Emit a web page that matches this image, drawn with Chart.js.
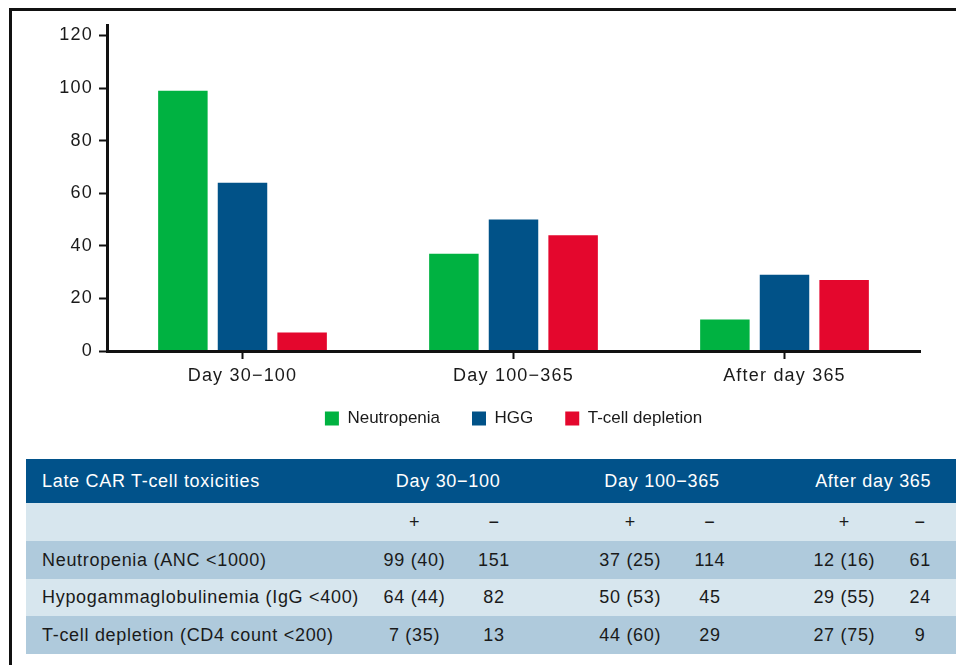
<!DOCTYPE html>
<html>
<head>
<meta charset="utf-8">
<script src="https://cdn.jsdelivr.net/npm/chart.js@4/dist/chart.umd.min.js"></script>
<style>
body { margin: 0; background: #fff; font-family: "Liberation Sans", Arial, sans-serif; }
#frame { position: absolute; left: 9px; top: 8px; width: 960px; height: 680px; border-top: 3px solid #111; border-left: 3px solid #111; }
#chartBox { position: absolute; left: 0; top: 0; width: 956px; height: 447px; }
#tbl { position: absolute; left: 26px; top: 459px; border-collapse: collapse; font-size: 18px; letter-spacing: 0.7px; color: #1a1a1a; table-layout: fixed; }
#tbl td { padding: 0; text-align: center; white-space: nowrap; }
#tbl td.lab { text-align: left; padding-left: 16px; }
#tbl tr.head { background: #01528a; color: #fff; height: 44px; }
#tbl tr.sub { background: #d7e6ee; height: 38px; }
#tbl tr.r1 { background: #afcadc; height: 38px; }
#tbl tr.r2 { background: #d7e6ee; height: 37px; }
</style>
</head>
<body>
<div id="frame"></div>
<div id="chartBox"><canvas id="bars" width="956" height="447"></canvas></div>
<table id="tbl">
  <colgroup>
    <col style="width:349px"><col style="width:80px"><col style="width:80px"><col style="width:58px">
    <col style="width:80px"><col style="width:80px"><col style="width:56px"><col style="width:80px"><col style="width:72px">
  </colgroup>
  <tbody id="tbody"></tbody>
</table>
<script>
// periods (x axis + table columns)
var periods = ["Day 30\u2212100", "Day 100\u2212365", "After day 365"];
var seriesNames = ["Neutropenia", "HGG", "T-cell depletion"];
var tableLabels = ["Neutropenia (ANC <1000)", "Hypogammaglobulinemia (IgG <400)", "T-cell depletion (CD4 count <200)"];

// positive counts per period
var neutropenia = [99, 37, 12];
var hgg = [64, 50, 29];
var tcell = [7, 44, 27];
// percentages in brackets
var neutropeniaPct = [40, 25, 16];
var hggPct = [44, 53, 55];
var tcellPct = [35, 60, 75];
// negative counts
var neutropeniaNeg = [151, 114, 61];
var hggNeg = [82, 45, 24];
var tcellNeg = [13, 29, 9];

var yTicks = [0, 20, 40, 60, 80, 100, 120];

var colors = ["#00b241", "#015288", "#e4072d"];

// axis labels in the original are a bit wider than the legend text,
// tick labels are drawn after the bars (z:1) so the spacing only hits them
var spacingPlugin = {
    id: "spacing",
    beforeUpdate: function (chart) { chart.ctx.letterSpacing = "0px"; },
    beforeDraw: function (chart) { chart.ctx.letterSpacing = "0px"; },
    afterDatasetsDraw: function (chart) { chart.ctx.letterSpacing = "1.2px"; },
    afterLayout: function (chart) {
        // pull the legend up closer to the axis labels
        chart.legend.top -= 9;
        chart.legend.bottom -= 9;
    }
};

var ctx = document.getElementById("bars").getContext("2d");
var chart = new Chart(ctx, {
    type: "bar",
    data: {
        labels: periods,
        datasets: [
            { label: seriesNames[0], data: neutropenia, backgroundColor: colors[0], borderWidth: 0 },
            { label: seriesNames[1], data: hgg, backgroundColor: colors[1], borderWidth: 0 },
            { label: seriesNames[2], data: tcell, backgroundColor: colors[2], borderWidth: 0 }
        ]
    },
    plugins: [spacingPlugin],
    options: {
        responsive: false,
        animation: false,
        devicePixelRatio: 1,
        layout: { padding: { top: 25, right: 36, left: 0, bottom: 1 } },
        datasets: { bar: { categoryPercentage: 0.66, barPercentage: 0.83 } },
        plugins: {
            tooltip: { enabled: false },
            legend: {
                position: "bottom",
                fullSize: false,
                labels: {
                    boxWidth: 14, boxHeight: 14, padding: 32,
                    color: "#1a1a1a",
                    font: { family: "Liberation Sans", size: 17 }
                }
            }
        },
        scales: {
            x: {
                afterFit: function (scale) { scale.height = 36; },
                grid: { display: true, offset: false, drawOnChartArea: false, drawTicks: true, tickLength: 8, tickColor: "#111", tickWidth: 2 },
                border: { display: true, color: "#111", width: 3, z: 1 },
                ticks: { z: 1, color: "#1a1a1a", padding: 6, font: { family: "Liberation Sans", size: 18 } }
            },
            y: {
                min: 0,
                max: 124,
                afterFit: function (scale) { scale.width = 107; },
                afterBuildTicks: function (scale) {
                    scale.ticks = yTicks.map(function (v) { return { value: v }; });
                },
                grid: { display: true, drawOnChartArea: false, drawTicks: true, tickLength: 8, tickColor: "#111", tickWidth: 2 },
                border: { display: true, color: "#111", width: 3, z: 1 },
                ticks: { z: 1, color: "#1a1a1a", padding: 6, font: { family: "Liberation Sans", size: 18 } }
            }
        }
    }
});

// table below the chart
var tbody = document.getElementById("tbody");
function cell(tr, text, cls, span, style) {
    var td = document.createElement("td");
    td.textContent = text;
    if (cls) td.className = cls;
    if (span) td.colSpan = span;
    if (style) td.setAttribute("style", style);
    tr.appendChild(td);
    return td;
}
var head = document.createElement("tr");
head.className = "head";
cell(head, "Late CAR T-cell toxicities", "lab");
cell(head, periods[0], "", 2, "padding-right:12px");
cell(head, "");
cell(head, periods[1], "", 2, "padding-right:16px");
cell(head, "");
cell(head, periods[2], "", 2, "padding-right:14px");
tbody.appendChild(head);

var sub = document.createElement("tr");
sub.className = "sub";
cell(sub, "", "lab");
for (var i = 0; i < 3; i++) {
    cell(sub, "+");
    cell(sub, "\u2212");
    if (i < 2) cell(sub, "");
}
tbody.appendChild(sub);

var pos = [neutropenia, hgg, tcell];
var pct = [neutropeniaPct, hggPct, tcellPct];
var neg = [neutropeniaNeg, hggNeg, tcellNeg];
for (var r = 0; r < 3; r++) {
    var tr = document.createElement("tr");
    tr.className = (r % 2 == 0) ? "r1" : "r2";
    cell(tr, tableLabels[r], "lab");
    for (var p = 0; p < 3; p++) {
        cell(tr, pos[r][p] + " (" + pct[r][p] + ")");
        cell(tr, String(neg[r][p]));
        if (p < 2) cell(tr, "");
    }
    tbody.appendChild(tr);
}
</script>
</body>
</html>
